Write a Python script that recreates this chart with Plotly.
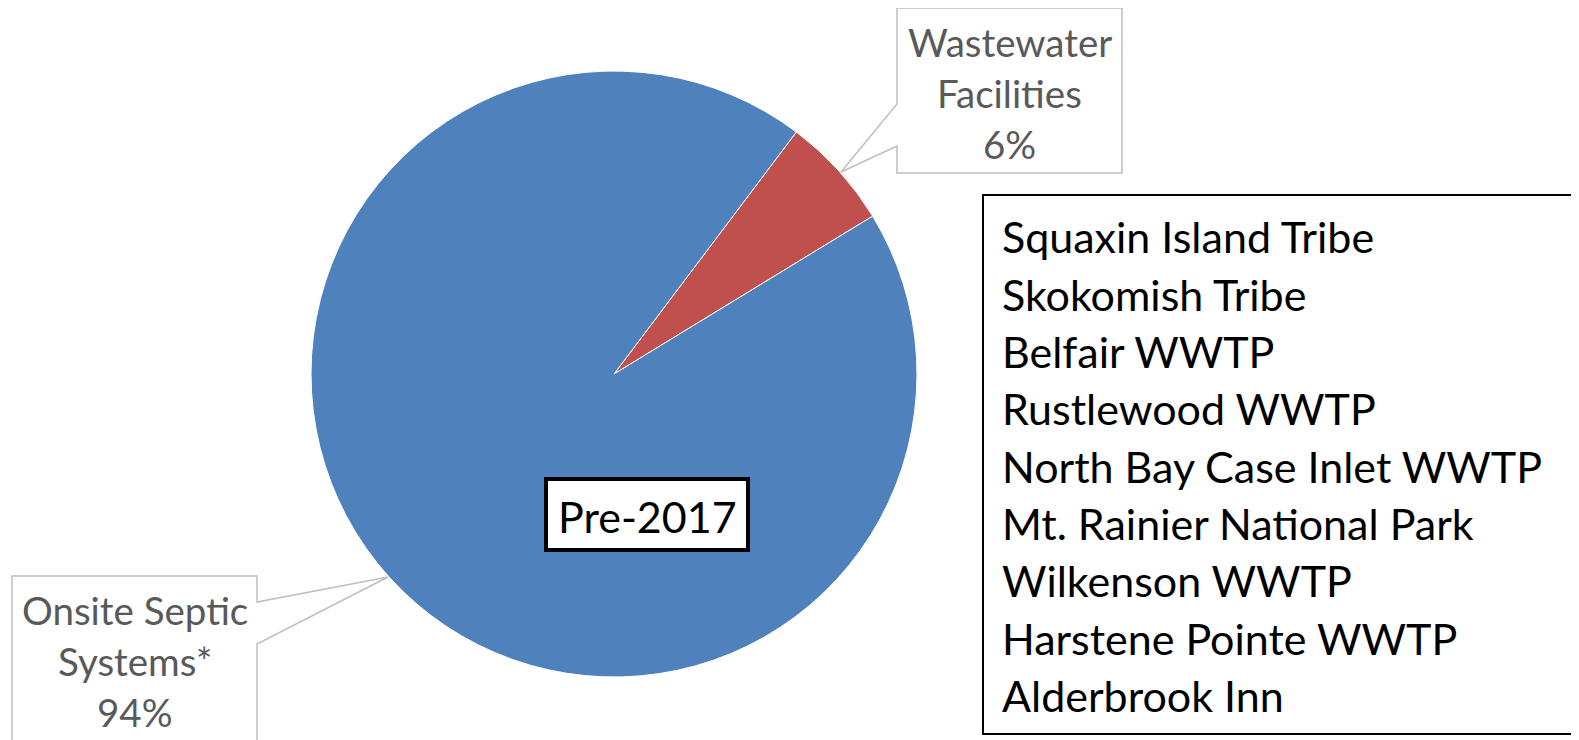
import plotly.graph_objects as go

# Page body has an 8px margin; the figure is sized to fit the window.
OFF = 8
W, H = 1579 - OFF, 740 - OFF

labels = ["Wastewater Facilities", "Onsite Septic Systems*"]
values = [6, 94]
colors = ["#C0504D", "#4F81BD"]
legend_lines = ["Squaxin Island Tribe", "Skokomish Tribe", "Belfair WWTP", "Rustlewood WWTP",
                "North Bay Case Inlet WWTP", "Mt. Rainier National Park", "Wilkenson WWTP",
                "Harstene Pointe WWTP", "Alderbrook Inn"]
ww_label = ["Wastewater", "Facilities", "6%"]
os_label = ["Onsite Septic", "Systems*", "94%"]
center_label = "Pre-2017"


def px(x):
    return (x - OFF) / W


def py(y):
    return 1 - (y - OFF) / H


cx, cy, r = 614, 374, 303

fig = go.Figure(go.Pie(
    labels=labels, values=values, sort=False, direction="clockwise", rotation=37,
    marker=dict(colors=colors, line=dict(color="white", width=1)),
    textinfo="none", hoverinfo="label+percent", showlegend=False,
    domain=dict(x=[px(cx - r), px(cx + r)], y=[py(cy + r), py(cy - r)]),
))

FONT = "Lato"
GRAY = "#595959"

shapes = []
annotations = []


def path(pts, close=False):
    s = "M " + " L ".join(f"{px(x):.5f},{py(y):.5f}" for x, y in pts)
    return s + (" Z" if close else "")


# Wastewater callout
shapes.append(dict(type="path", xref="paper", yref="paper",
                   path=path([(897, 8), (1122, 8), (1122, 173), (897, 173), (897, 146), (841, 172), (897, 104)], True),
                   line=dict(color="#BFBFBF", width=1.5), fillcolor="white"))
for i, t in enumerate(ww_label):
    annotations.append(dict(x=px(1009.5), y=py(42 + i * 51), xref="paper", yref="paper",
                            text=t, showarrow=False, xanchor="center", yanchor="middle",
                            font=dict(family=FONT, size=38.5, color=GRAY)))

# Onsite callout
shapes.append(dict(type="path", xref="paper", yref="paper",
                   path=path([(12, 760), (12, 576), (257, 576), (257, 602), (388, 577), (257, 644), (257, 760)]),
                   line=dict(color="#BFBFBF", width=1.5), fillcolor="rgba(0,0,0,0)"))
for i, t in enumerate(os_label):
    annotations.append(dict(x=px(134.5), y=py(610 + i * 51), xref="paper", yref="paper",
                            text=t, showarrow=False, xanchor="center", yanchor="middle",
                            font=dict(family=FONT, size=38.5, color=GRAY)))

# Center label box
shapes.append(dict(type="rect", xref="paper", yref="paper",
                   x0=px(546), x1=px(748), y0=py(550), y1=py(479),
                   line=dict(color="black", width=4), fillcolor="white"))
annotations.append(dict(x=px(647), y=py(516), xref="paper", yref="paper",
                        text=center_label, showarrow=False, xanchor="center", yanchor="middle",
                        font=dict(family=FONT, size=43, color="black")))

# Legend box
shapes.append(dict(type="rect", xref="paper", yref="paper",
                   x0=px(983), x1=px(1574), y0=py(734), y1=py(195),
                   line=dict(color="black", width=2), fillcolor="white"))
for i, t in enumerate(legend_lines):
    annotations.append(dict(x=px(1000), y=py(237 + i * 57.3), xref="paper", yref="paper",
                            text=t, showarrow=False, xanchor="left", yanchor="middle",
                            font=dict(family=FONT, size=43, color="black")))

fig.update_layout(width=W, height=H, margin=dict(l=0, r=0, t=0, b=0),
                  paper_bgcolor="white", plot_bgcolor="white",
                  shapes=shapes, annotations=annotations)

fig.write_html("out.html")
